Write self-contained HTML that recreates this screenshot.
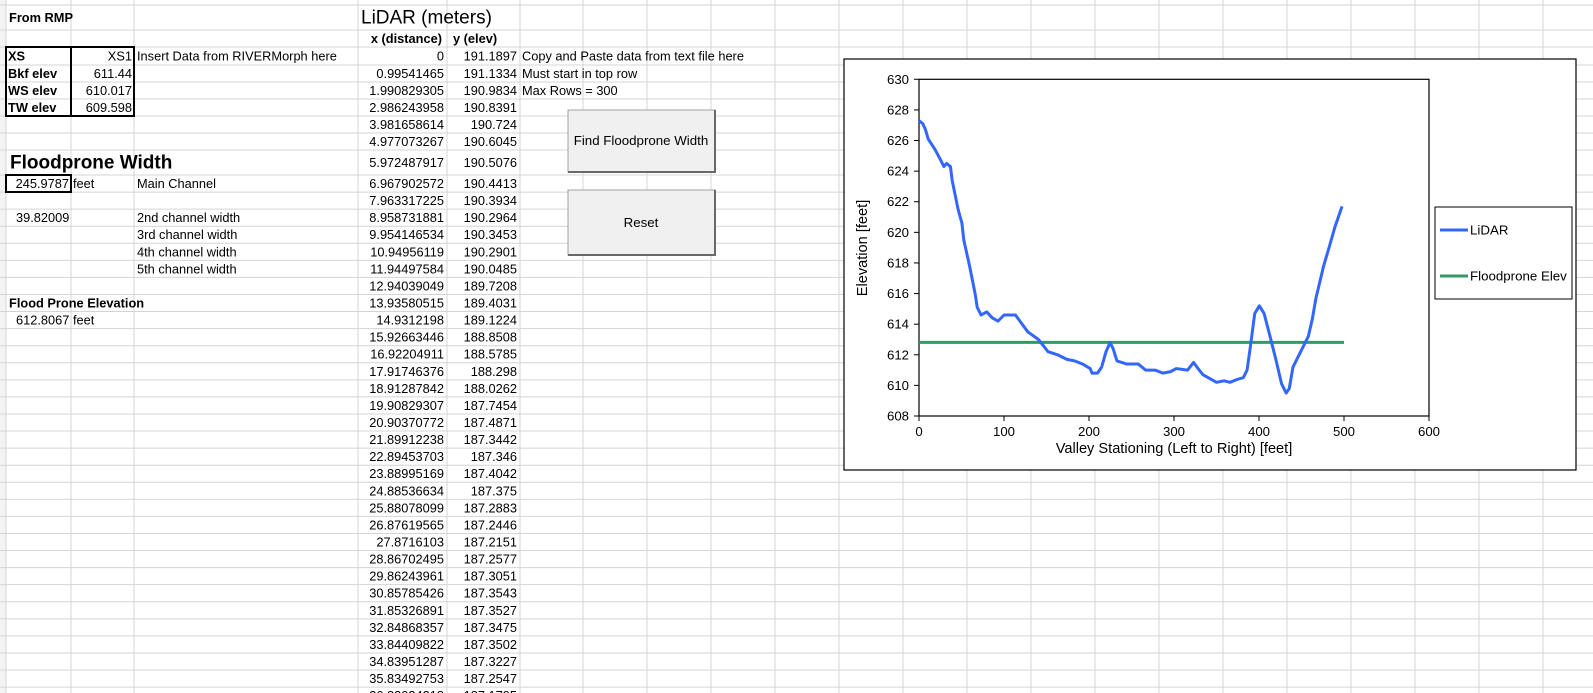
<!DOCTYPE html>
<html><head><meta charset="utf-8"><style>
html,body{margin:0;padding:0;background:#fff;}
svg{display:block;font-family:"Liberation Sans",Arial,sans-serif;}
</style></head><body>
<svg id="s" width="1593" height="693" viewBox="0 0 1593 693">
<g id="grid"></g>
<g id="cells" font-size="12.8" fill="#000"></g>
<g fill="none" stroke="#000" stroke-width="2">
<rect x="6" y="47" width="128" height="69"/>
<line x1="71" y1="47" x2="71" y2="116"/>
<rect x="6" y="175" width="65" height="17"/>
</g>
<g>
<rect x="568" y="110" width="147" height="62" fill="#f0f0f0" stroke="#a0a0a0"/>
<line x1="715" y1="110" x2="715" y2="172" stroke="#696969" stroke-width="2"/>
<line x1="568" y1="172" x2="716" y2="172" stroke="#696969" stroke-width="2"/>
<text x="641" y="145" text-anchor="middle" font-size="13.3">Find Floodprone Width</text>
</g>
<g>
<rect x="568" y="190" width="147" height="65" fill="#f0f0f0" stroke="#a0a0a0"/>
<line x1="715" y1="190" x2="715" y2="255" stroke="#696969" stroke-width="2"/>
<line x1="568" y1="255" x2="716" y2="255" stroke="#696969" stroke-width="2"/>
<text x="641" y="227" text-anchor="middle" font-size="13.3">Reset</text>
</g>
<g id="chart">
<rect x="844" y="59" width="732" height="411" fill="#fff" stroke="#000" stroke-width="1.2"/>
<rect x="919" y="79.3" width="510" height="336.7" fill="#fff" stroke="#000" stroke-width="1.2"/>
<g id="axes" font-size="13.2"></g>
<g id="series"></g>
<text x="1174" y="453" text-anchor="middle" font-size="14.6">Valley Stationing (Left to Right) [feet]</text>
<text transform="translate(867,248) rotate(-90)" text-anchor="middle" font-size="14.6">Elevation [feet]</text>
<g>
<rect x="1435" y="207" width="137" height="92" fill="#fff" stroke="#000" stroke-width="1"/>
<g>
<line x1="1440" y1="230" x2="1468" y2="230" stroke="#3366ff" stroke-width="3"/>
<text x="1470" y="234.5" font-size="13.3">LiDAR</text></g>
<g>
<line x1="1440" y1="276" x2="1468" y2="276" stroke="#339966" stroke-width="3"/>
<text x="1470" y="280.5" font-size="13.3">Floodprone Elev</text></g>
</g>
</g>
</svg>
<script>
const stationFt=[0,4.5,7.7,10.8,19,25.7,29.3,32.4,37,39,46,50.5,52.7,59.5,66,68.5,73,79.7,86.5,93,100,113.5,120,128,140.5,151.8,163,174,183,192.3,201.4,203.6,210,214.9,220,224.8,228.4,232.9,244,257.7,266.7,277.9,287,296,302.7,316,323,329.7,334,350,359,365.8,374.8,381.5,386,390.5,395,400.4,406,413,419.8,426.6,432,435.6,440,449,458,462.6,467,476,482.9,489.6,497.7];
const elevFt=[627.3,627.1,626.7,626.1,625.4,624.7,624.3,624.5,624.3,623.4,621.5,620.6,619.5,617.8,616,615.1,614.6,614.8,614.4,614.2,614.6,614.6,614.1,613.5,613,612.2,612,611.7,611.6,611.4,611.1,610.8,610.8,611.2,612.2,612.8,612.4,611.6,611.4,611.4,611,611,610.8,610.9,611.1,611,611.5,611,610.7,610.2,610.3,610.2,610.4,610.5,611,612.8,614.7,615.2,614.7,613.2,611.7,610.1,609.5,609.8,611.2,612.2,613.2,614.3,615.7,617.8,619.1,620.4,621.7];
const floodX=[0,500];
const floodY=[612.8067,612.8067];
const xTicks=[0,100,200,300,400,500,600];
const yTicks=[608,610,612,614,616,618,620,622,624,626,628,630];
const lidarX=["0","0.99541465","1.990829305","2.986243958","3.981658614","4.977073267","5.972487917","6.967902572","7.963317225","8.958731881","9.954146534","10.94956119","11.94497584","12.94039049","13.93580515","14.9312198","15.92663446","16.92204911","17.91746376","18.91287842","19.90829307","20.90370772","21.89912238","22.89453703","23.88995169","24.88536634","25.88078099","26.87619565","27.8716103","28.86702495","29.86243961","30.85785426","31.85326891","32.84868357","33.84409822","34.83951287","35.83492753","36.83034218"];
const lidarY=["191.1897","191.1334","190.9834","190.8391","190.724","190.6045","190.5076","190.4413","190.3934","190.2964","190.3453","190.2901","190.0485","189.7208","189.4031","189.1224","188.8508","188.5785","188.298","188.0262","187.7454","187.4871","187.3442","187.346","187.4042","187.375","187.2883","187.2446","187.2151","187.2577","187.3051","187.3543","187.3527","187.3475","187.3502","187.3227","187.2547","187.1795"];

const NS="http://www.w3.org/2000/svg";
function mk(tag,attrs,parent){const e=document.createElementNS(NS,tag);for(const k in attrs)e.setAttribute(k,attrs[k]);parent.appendChild(e);return e;}
const rowTops=[0,5,30,47,65,82,99,116,133,150,175];
for(let i=0;i<32;i++)rowTops.push(175+17.07*(i+1));
const colX=[6,71,134,358,447,520];
for(let x=583;x<1600;x+=64)colX.push(x);
const grid=document.getElementById('grid');
mk('rect',{x:0,y:0,width:6,height:693,fill:'#f3f3f3'},grid);
rowTops.forEach(y=>{if(y>0)mk('line',{x1:0,y1:y,x2:1593,y2:y,stroke:'#d4d4d4','stroke-width':1},grid);});
colX.forEach(x=>mk('line',{x1:x,y1:0,x2:x,y2:693,stroke:'#d4d4d4','stroke-width':1},grid));
const cells=document.getElementById('cells');
function rowMid(r){return (rowTops[r]+rowTops[r+1])/2;}
function cell(txt,x,r,opt){opt=opt||{};const t=mk('text',{x:x,y:rowMid(r)+(opt.dy||4.5),'text-anchor':opt.anchor||'start','font-size':opt.size||12.8,'font-weight':opt.bold?'bold':'normal'},cells);t.textContent=txt;


return t;}
cell('From RMP',9,1,{bold:true,name:'from-rmp-label'});
cell('LiDAR (meters)',361,1,{size:19,dy:6,name:'lidar-title'});
cell('x (distance)',442,2,{bold:true,anchor:'end',name:'x-distance-header'});
cell('y (elev)',453,2,{bold:true,name:'y-elev-header'});
cell('XS',8,3,{bold:true,name:'xs-label'});cell('XS1',132,3,{anchor:'end',name:'xs-value'});
cell('Insert Data from RIVERMorph here',137,3,{name:'insert-note'});
cell('Bkf elev',8,4,{bold:true,name:'bkf-label'});cell('611.44',132,4,{anchor:'end',name:'bkf-value'});
cell('WS elev',8,5,{bold:true,name:'ws-label'});cell('610.017',132,5,{anchor:'end',name:'ws-value'});
cell('TW elev',8,6,{bold:true,name:'tw-label'});cell('609.598',132,6,{anchor:'end',name:'tw-value'});
cell('Floodprone Width',10,9,{bold:true,size:19,dy:6,name:'floodprone-width-title'});
cell('245.9787',69,10,{anchor:'end',name:'floodprone-width-value'});cell('feet',73,10,{name:'feet-unit'});
cell('Main Channel',137,10,{name:'main-channel-label'});
cell('39.82009',16,12,{name:'second-channel-value'});
cell('2nd channel width',137,12,{name:'second-channel-label'});
cell('3rd channel width',137,13,{name:'third-channel-label'});
cell('4th channel width',137,14,{name:'fourth-channel-label'});
cell('5th channel width',137,15,{name:'fifth-channel-label'});
cell('Flood Prone Elevation',9,17,{bold:true,name:'flood-prone-elevation-label'});
cell('612.8067',16,18,{name:'flood-prone-elevation-value'});cell('feet',73,18,{name:'feet-unit'});
cell('Copy and Paste data from text file here',522,3,{name:'paste-note'});
cell('Must start in top row',522,4,{name:'start-note'});
cell('Max Rows = 300',522,5,{name:'max-rows-note'});
lidarX.forEach((v,i)=>{cell(v,444,3+i,{anchor:'end',name:'lidar-x-cell'});cell(lidarY[i],517,3+i,{anchor:'end',name:'lidar-y-cell'});});

const X0=919,X1=1429,Y0=416,Y1=79.3;
const xs=v=>X0+(v-0)/600*(X1-X0);
const ys=v=>Y0-(v-608)/22*(Y0-Y1);
const axes=document.getElementById('axes');
xTicks.forEach(v=>{const x=xs(v);
const l=mk('line',{x1:x,y1:Y0,x2:x,y2:Y0+5,stroke:'#000'},axes);


const t=mk('text',{x:x,y:Y0+20,'text-anchor':'middle'},axes);t.textContent=v;

});
yTicks.forEach(v=>{const y=ys(v);
const l=mk('line',{x1:X0-5,y1:y,x2:X0,y2:y,stroke:'#000'},axes);


const t=mk('text',{x:X0-10,y:y+4.5,'text-anchor':'end'},axes);t.textContent=v;

});
const series=document.getElementById('series');
const fl=mk('polyline',{points:floodX.map((v,i)=>xs(v)+','+ys(floodY[i])).join(' '),fill:'none',stroke:'#339966','stroke-width':3},series);


const ll=mk('polyline',{points:stationFt.map((v,i)=>xs(v)+','+ys(elevFt[i])).join(' '),fill:'none',stroke:'#3366ff','stroke-width':3,'stroke-linejoin':'round'},series);


</script>
</body></html>
